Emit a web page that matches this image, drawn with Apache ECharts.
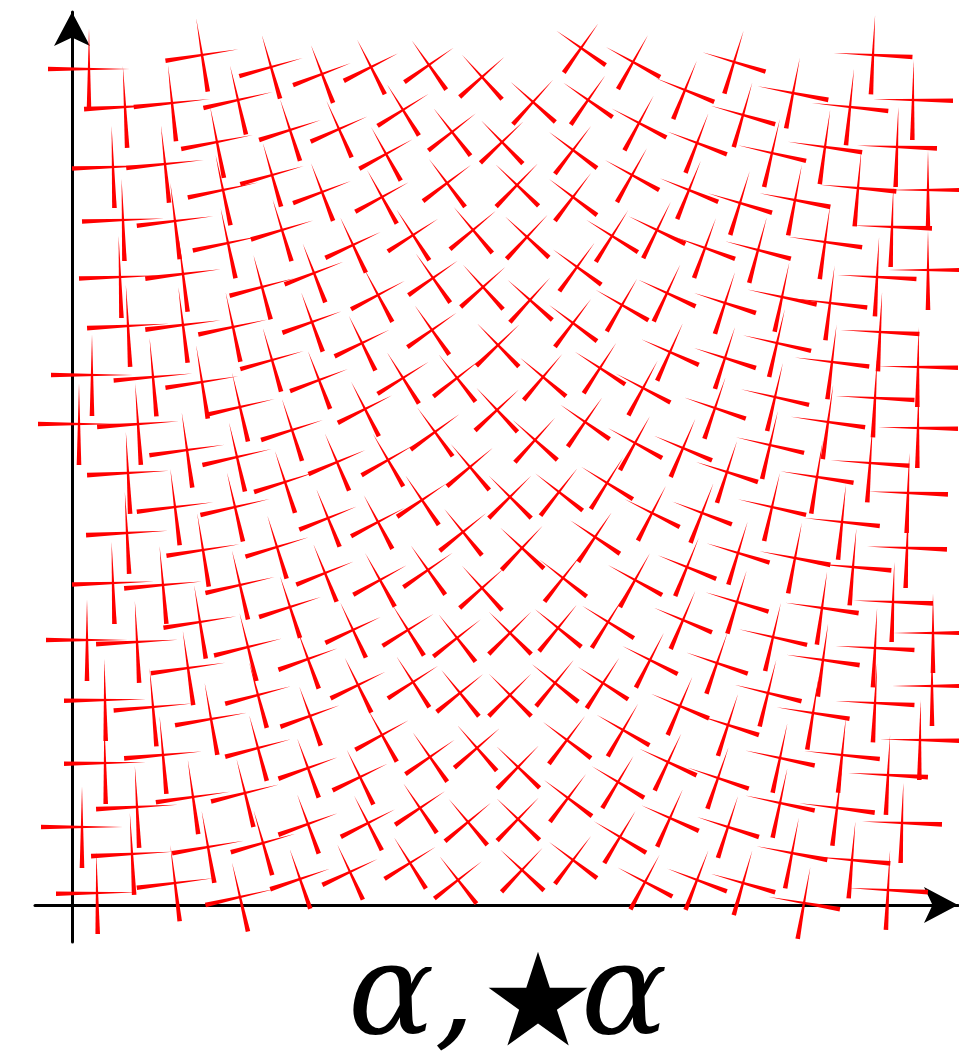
<!DOCTYPE html>
<html>
<head>
<meta charset="utf-8">
<script src="https://cdn.jsdelivr.net/npm/echarts/dist/echarts.min.js"></script>
<style>
  html, body { margin: 0; padding: 0; background: #ffffff; }
  #chart { width: 959px; height: 1063px; }
</style>
</head>
<body>
<div id="chart"></div>
<script>
// Centres of the crosses (plot units), tilt of each cross (degrees) and needle length (plot units)
const crossX = [0.17,0.53,1.00,1.30,1.66,1.99,2.50,2.99,3.57,1.45,
2.18,2.67,3.31,3.80,0.41,0.93,1.51,2.00,2.50,3.14,
3.10,3.75,0.51,1.03,1.56,2.10,2.81,3.41,0.48,1.11,
1.90,2.42,3.06,3.61,4.10,4.61,5.09,5.16,5.61,6.13,
4.30,5.01,5.67,6.25,4.45,5.01,5.60,6.17,4.01,4.55,
5.40,5.85,6.33,4.11,4.58,5.05,5.50,5.95,6.62,7.21,
8.01,7.78,8.41,6.71,7.00,7.53,8.25,6.68,7.23,7.86,
8.56,6.86,7.53,8.20,8.56,8.05,6.53,7.10,7.58,0.56,
1.11,1.61,2.40,0.20,0.81,1.30,2.00,2.47,1.68,0.07,
0.66,1.15,1.65,2.20,0.56,1.03,1.63,2.13,0.55,0.41,
0.91,1.31,2.05,1.68,2.53,1.28,2.18,0.15,0.65,1.76,
1.16,2.36,0.33,0.81,1.86,1.39,2.90,3.60,4.26,5.01,
3.31,3.85,4.71,5.28,2.93,3.63,4.25,4.63,5.13,2.65,
3.16,3.98,4.38,4.87,5.35,2.56,3.06,3.50,3.91,4.50,
5.23,4.91,3.08,3.56,4.10,2.81,3.36,3.85,4.38,4.86,
5.36,2.86,3.41,3.88,4.38,4.83,5.31,5.98,6.53,7.05,
7.60,8.08,8.46,5.71,6.43,7.03,7.56,8.03,8.46,5.63,
6.11,6.55,6.98,7.45,7.98,8.36,5.80,6.30,7.00,7.70,
8.35,6.15,6.66,7.23,7.81,5.63,6.11,6.65,7.01,7.50,
8.21,8.61,5.78,6.45,6.96,7.51,8.03,8.60,8.03,6.08,
2.38,3.10,3.58,4.05,4.46,4.95,2.88,2.36,3.48,3.96,
4.46,4.96,2.96,2.36,2.78,3.38,3.86,4.50,5.01,2.28,
0.33,0.91,1.86,1.21,1.73,0.65,0.10,1.36,1.91,0.60,
0.25,1.03,1.68,5.51,6.56,7.41,5.46,5.96,6.46,7.08,
7.70,8.16,8.48,7.08,7.65,8.30,5.48,5.98,6.56,7.20,
7.80,5.73,6.25,6.71,7.32,8.16];

const crossY = [8.36,7.98,8.02,8.50,8.05,8.38,8.31,8.38,8.40,7.63,
7.75,7.76,7.95,7.73,7.38,7.41,7.15,7.30,7.13,7.51,
7.08,7.22,6.85,6.84,6.62,6.75,6.60,6.70,6.28,6.31,
6.18,6.32,6.10,6.27,8.28,8.03,8.57,8.05,8.43,8.15,
7.63,7.55,7.82,7.62,7.20,7.08,7.30,7.15,6.75,6.68,
6.69,6.75,6.57,6.18,6.05,6.38,6.00,6.12,8.43,8.12,
8.50,7.98,8.05,7.90,7.52,7.58,7.58,7.02,7.05,7.17,
7.15,6.55,6.63,6.78,6.35,6.28,6.02,6.08,6.02,5.79,
5.80,5.78,5.83,5.30,5.28,5.23,5.45,5.25,4.98,4.81,
4.81,4.55,4.48,4.75,4.32,3.98,3.98,4.23,3.72,3.22,
3.20,3.55,3.58,3.20,3.32,2.83,2.98,2.65,2.63,2.58,
2.37,2.46,2.05,1.98,2.10,1.86,5.62,5.75,5.60,5.82,
5.27,5.27,5.28,5.37,4.96,4.73,4.95,4.65,4.83,4.43,
4.45,4.38,4.08,4.13,4.22,3.87,3.83,4.05,3.73,3.57,
3.68,3.27,3.25,3.35,3.17,2.75,2.75,2.67,2.72,2.77,
2.83,2.20,2.23,2.12,2.10,2.22,2.22,5.53,5.47,5.62,
5.43,5.73,5.38,5.17,4.97,5.08,4.83,5.07,4.77,4.62,
4.57,4.33,4.60,4.28,4.42,4.12,3.92,3.92,3.98,3.83,
3.57,3.38,3.52,3.47,3.38,3.25,2.85,3.03,2.68,2.97,
3.03,2.72,2.45,2.42,2.12,2.45,2.57,2.19,2.02,1.99,
1.89,1.70,1.48,1.57,1.38,1.65,1.28,1.37,0.97,0.83,
0.86,1.07,0.82,0.81,0.33,0.42,0.25,0.35,0.45,0.26,
1.42,1.50,1.57,1.08,1.12,0.98,0.78,0.58,0.62,0.51,
0.12,0.22,0.08,1.75,1.80,1.92,1.23,1.43,1.27,1.47,
1.50,1.30,1.65,1.02,0.97,0.82,0.68,0.87,0.78,0.52,
0.45,0.23,0.25,0.22,0.02,0.15];

const crossTilt = [0,3,6,9,13,16,21,27,35,11,
18,24,32,38,2,6,12,16,21,29,
29,37,2,7,12,17,25,33,2,7,
15,21,28,35,42,48,55,55,61,68,
44,53,62,69,46,53,61,68,40,47,
58,64,70,42,48,54,60,65,73,79,
87,84,89,74,77,82,88,73,79,85,
90,75,82,88,90,87,72,78,83,3,
7,12,20,0,5,9,16,21,13,0,
4,8,13,18,3,7,13,18,3,2,
5,9,17,13,22,9,18,0,3,14,
8,20,1,5,15,10,26,35,44,53,
32,38,50,57,27,36,43,48,55,23,
30,40,45,52,58,22,28,34,39,47,
56,52,29,35,42,25,32,38,45,51,
58,26,33,39,45,51,57,66,72,77,
83,87,89,62,71,77,82,87,89,61,
67,72,77,81,86,88,63,69,77,84,
88,68,73,79,85,61,67,73,77,82,
88,90,63,71,76,82,87,90,87,67,
20,29,35,41,46,53,26,20,34,40,
46,53,27,20,25,32,38,47,53,19,
1,5,15,8,14,3,0,10,16,3,
1,7,13,60,72,81,59,65,71,78,
84,87,89,78,83,88,59,66,72,79,
85,62,69,74,80,87];

const crossLen = [0.82,0.82,0.77,0.74,0.71,0.66,0.62,0.61,0.60,0.73,
0.65,0.62,0.60,0.60,0.82,0.78,0.72,0.66,0.62,0.61,
0.61,0.60,0.82,0.77,0.72,0.65,0.61,0.60,0.82,0.76,
0.67,0.63,0.61,0.60,0.60,0.60,0.60,0.60,0.62,0.63,
0.60,0.60,0.62,0.64,0.60,0.60,0.62,0.63,0.60,0.60,
0.61,0.63,0.64,0.60,0.60,0.60,0.61,0.63,0.66,0.72,
0.79,0.77,0.80,0.67,0.70,0.75,0.80,0.67,0.72,0.77,
0.80,0.68,0.75,0.80,0.80,0.79,0.65,0.71,0.75,0.82,
0.76,0.71,0.63,0.82,0.79,0.74,0.66,0.62,0.71,0.82,
0.82,0.76,0.71,0.65,0.82,0.77,0.71,0.65,0.82,0.82,
0.78,0.74,0.66,0.71,0.62,0.74,0.65,0.82,0.82,0.70,
0.75,0.63,0.82,0.79,0.68,0.73,0.61,0.60,0.60,0.60,
0.60,0.60,0.60,0.60,0.61,0.60,0.60,0.60,0.60,0.62,
0.61,0.60,0.60,0.60,0.61,0.62,0.61,0.60,0.60,0.60,
0.60,0.60,0.61,0.60,0.60,0.61,0.60,0.60,0.60,0.60,
0.61,0.61,0.60,0.60,0.60,0.60,0.60,0.63,0.65,0.70,
0.75,0.79,0.80,0.62,0.65,0.70,0.75,0.79,0.80,0.62,
0.63,0.65,0.70,0.74,0.79,0.80,0.62,0.64,0.70,0.76,
0.80,0.63,0.66,0.72,0.77,0.62,0.63,0.66,0.70,0.74,
0.80,0.80,0.62,0.65,0.69,0.74,0.79,0.80,0.79,0.63,
0.63,0.61,0.60,0.60,0.60,0.60,0.61,0.63,0.60,0.60,
0.60,0.60,0.61,0.63,0.61,0.60,0.60,0.60,0.60,0.63,
0.82,0.78,0.68,0.75,0.70,0.82,0.82,0.73,0.67,0.82,
0.82,0.77,0.71,0.61,0.65,0.74,0.61,0.63,0.65,0.71,
0.76,0.80,0.80,0.71,0.76,0.80,0.61,0.63,0.65,0.72,
0.77,0.62,0.64,0.67,0.73,0.80];

// Caption "α, ⋆α" in three pieces
const titleParts = ['α,', '⋆', 'α'];

const crossData = crossX.map((x, i) => [x, crossY[i], crossTilt[i], crossLen[i]]);

const chart = echarts.init(document.getElementById('chart'), null, { renderer: 'canvas' });

const axisLineStyle = { color: '#000000', width: 3 };
const alphaFont = 'italic normal 128px "DejaVu Serif"';

chart.setOption({
  backgroundColor: '#ffffff',
  animation: false,
  graphic: [
    { type: 'text', x: 348, y: 1000, style: { text: titleParts[0], font: alphaFont, fill: '#000000', align: 'left', verticalAlign: 'middle' } },
    { type: 'text', x: 538, y: 1017, style: { text: titleParts[1], font: 'normal normal 258px "DejaVu Sans"', fill: '#000000', align: 'center', verticalAlign: 'middle' } },
    { type: 'text', x: 581, y: 1000, style: { text: titleParts[2], font: alphaFont, fill: '#000000', align: 'left', verticalAlign: 'middle' } }
  ],
  grid: { left: 35, top: 12, width: 923, height: 930, containLabel: false },
  xAxis: {
    type: 'value', min: -0.37, max: 8.86,
    axisLine: { show: true, onZero: true, symbol: ['none', 'arrow'], symbolSize: [27, 34], lineStyle: axisLineStyle },
    axisTick: { show: false }, axisLabel: { show: false }, splitLine: { show: false }
  },
  yAxis: {
    type: 'value', min: -0.37, max: 8.93,
    axisLine: { show: true, onZero: true, symbol: ['none', 'arrow'], symbolSize: [27, 34], lineStyle: axisLineStyle },
    axisTick: { show: false }, axisLabel: { show: false }, splitLine: { show: false }
  },
  series: [{
    type: 'custom',
    clip: false,
    data: crossData,
    encode: { x: 0, y: 1 },
    renderItem: function (params, api) {
      const c = api.coord([api.value(0), api.value(1)]);
      const tilt = api.value(2) * Math.PI / 180;
      const len = api.size([api.value(3), 0])[0];
      const half = len / 2;
      const w = 2.3;
      const children = [];
      [Math.PI, 1.5 * Math.PI].forEach(function (base) {
        const a = base + tilt;
        const dx = Math.cos(a), dy = -Math.sin(a);
        const nx = -dy, ny = dx;
        const tip = [c[0] - dx * half, c[1] - dy * half];
        const end = [c[0] + dx * half, c[1] + dy * half];
        children.push({
          type: 'polygon',
          shape: { points: [tip, [end[0] + nx * w, end[1] + ny * w], [end[0] - nx * w, end[1] - ny * w]] },
          style: { fill: '#ff0000' }
        });
      });
      return { type: 'group', children: children };
    }
  }]
});
</script>
</body>
</html>
